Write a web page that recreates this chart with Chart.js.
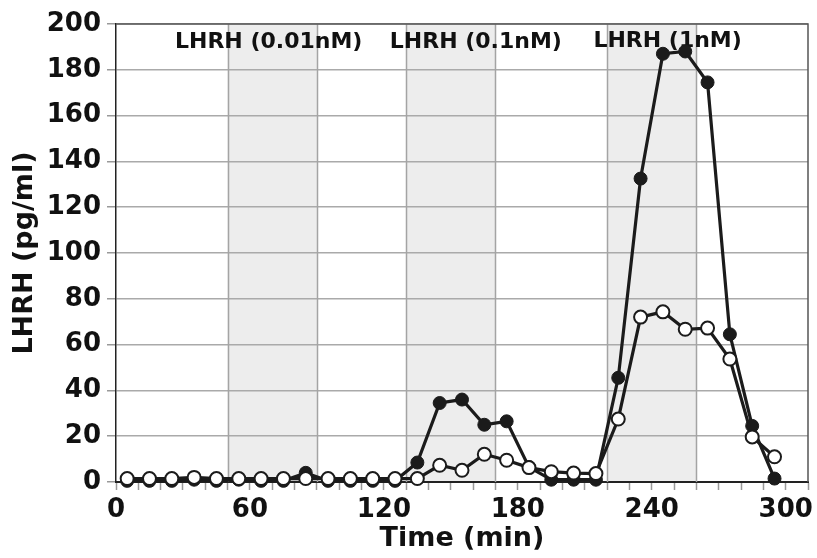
<!DOCTYPE html>
<html>
<head>
<meta charset="utf-8">
<script src="https://cdn.jsdelivr.net/npm/chart.js@4.4.0/dist/chart.umd.min.js"></script>
<style>
  html, body { margin: 0; padding: 0; background: #fff; }
  #wrap { width: 817px; height: 558px; }
</style>
</head>
<body>
<div id="wrap"><canvas id="c" width="817" height="558"></canvas></div>
<script>
// datos
const times = [5, 15, 25, 35, 45, 55, 65, 75, 85, 95, 105, 115, 125, 135, 145,
               155, 165, 175, 185, 195, 205, 215, 225, 235, 245, 255, 265, 275, 285, 295];
const filledVals = [0.5, 0.5, 0.5, 1, 0.5, 1, 0.5, 0.5, 4, 0.5, 0.5, 0.5, 0.5, 8.5, 34.5,
                    36, 25, 26.5, 6.5, 1, 1, 1, 45.5, 132.5, 187, 188, 174.5, 64.5, 24.5, 1.5];
const openVals = [1.5, 1.5, 1.5, 2, 1.5, 1.5, 1.5, 1.5, 1.5, 1.5, 1.5, 1.5, 1.5, 1.5, 7.3,
                  5.1, 12.1, 9.5, 6.3, 4.5, 3.9, 3.7, 27.5, 72, 74.3, 66.7, 67.2, 53.7, 19.7, 11];

// periodos de estímulo (min)
const pulses = [[50, 90], [130, 170], [220, 260]];
const pulseLabels = ["LHRH (0.01nM)", "LHRH (0.1nM)", "LHRH (1nM)"];
const pulseLabelX = [68.4, 161.2, 247.1];

const xTicks = [0, 60, 120, 180, 240, 300];
const yMax = 200;

const FONT = "'DejaVu Sans', sans-serif";
const INK = "#1b1b1b";

const toXY = (vals) => times.map((t, i) => ({ x: t, y: vals[i] }));

// sombreado + bordes + textos
const pulsePlugin = {
  id: "pulses",
  beforeDraw(chart) {
    const { ctx, chartArea: a, scales: { x } } = chart;
    ctx.save();
    ctx.fillStyle = "#ffffff";
    ctx.fillRect(a.left, a.top, a.right - a.left, a.bottom - a.top);
    pulses.forEach(([s, e]) => {
      const x0 = x.getPixelForValue(s), x1 = x.getPixelForValue(e);
      ctx.fillStyle = "#ededed";
      ctx.fillRect(x0, a.top, x1 - x0, a.bottom - a.top);
    });
    ctx.restore();
  },
  beforeDatasetsDraw(chart) {
    const { ctx, chartArea: a, scales: { x } } = chart;
    ctx.save();
    ctx.strokeStyle = "#a4a4a4";
    ctx.lineWidth = 1.5;
    pulses.forEach(([s, e]) => {
      [s, e].forEach(v => {
        const px = Math.round(x.getPixelForValue(v)) + 0.5;
        ctx.beginPath();
        ctx.moveTo(px, a.top);
        ctx.lineTo(px, a.bottom);
        ctx.stroke();
      });
    });
    // marco superior y derecho
    ctx.strokeStyle = "#555";
    ctx.lineWidth = 1.5;
    ctx.beginPath();
    ctx.moveTo(a.left, a.top);
    ctx.lineTo(a.right, a.top);
    ctx.lineTo(a.right, a.bottom);
    ctx.stroke();
    // textos de los pulsos
    ctx.fillStyle = "#111";
    ctx.font = "bold 22px " + FONT;
    ctx.textAlign = "center";
    ctx.textBaseline = "alphabetic";
    pulseLabels.forEach((txt, i) => {
      const yy = i === 2 ? 46.5 : 48;
      ctx.fillText(txt, x.getPixelForValue(pulseLabelX[i]), yy);
    });
    ctx.restore();
  }
};

new Chart(document.getElementById("c").getContext("2d"), {
  type: "line",
  data: {
    datasets: [
      {
        label: "open",
        data: toXY(openVals),
        borderColor: INK,
        borderWidth: 3.2,
        pointRadius: 6.5,
        pointBackgroundColor: "#ffffff",
        pointBorderColor: INK,
        pointBorderWidth: 2,
        tension: 0
      },
      {
        label: "filled",
        data: toXY(filledVals),
        borderColor: INK,
        borderWidth: 3.2,
        pointRadius: 6.5,
        pointBackgroundColor: INK,
        pointBorderColor: INK,
        pointBorderWidth: 1,
        tension: 0
      }
    ]
  },
  options: {
    responsive: false,
    animation: false,
    clip: false,
    layout: { padding: { left: 0, right: 9, top: 24, bottom: 0 } },
    plugins: { legend: { display: false }, tooltip: { enabled: false } },
    scales: {
      x: {
        type: "linear",
        min: 0,
        max: 310,
        afterFit: (s) => { s.height = 76; },
        ticks: {
          stepSize: 10,
          autoSkip: false,
          maxRotation: 0,
          padding: 5,
          color: "#111",
          font: { family: FONT, size: 26, weight: "bold" },
          callback: (v) => (xTicks.includes(v) ? String(v) : "")
        },
        grid: { drawOnChartArea: false, tickLength: 8, tickColor: "#999", tickWidth: 1.5 },
        border: { color: "#222", width: 2 },
        title: {
          display: true,
          text: "Time (min)",
          color: "#111",
          font: { family: FONT, size: 27, weight: "bold" },
          padding: { top: 0, bottom: 3 }
        }
      },
      y: {
        min: 0,
        max: yMax,
        afterFit: (s) => { s.width = 116; },
        ticks: {
          stepSize: 20,
          padding: 6,
          color: "#111",
          font: { family: FONT, size: 26, weight: "bold" }
        },
        grid: { color: "#aaaaaa", lineWidth: 1.5, tickLength: 9, tickColor: "#999" },
        border: { color: "#222", width: 1.5 },
        title: {
          display: true,
          text: "LHRH (pg/ml)",
          color: "#111",
          font: { family: FONT, size: 27, weight: "bold" },
          padding: { top: 9, bottom: 0 }
        }
      }
    }
  },
  plugins: [pulsePlugin]
});
</script>
</body>
</html>
